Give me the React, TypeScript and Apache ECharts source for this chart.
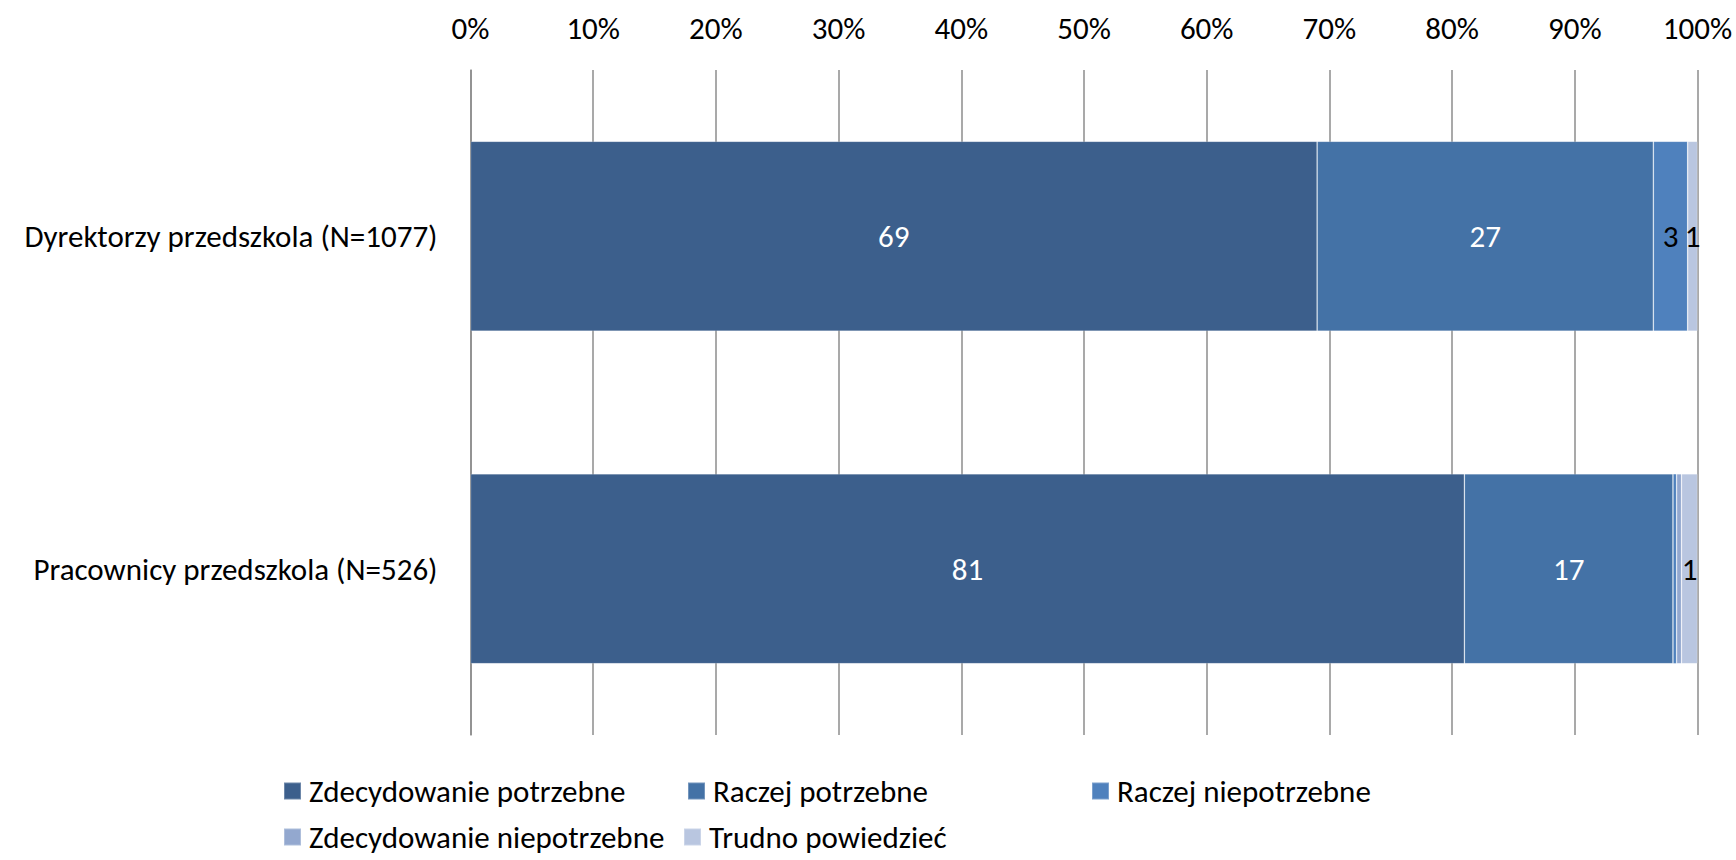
import React, { useEffect, useRef } from "react";
import * as echarts from "echarts";

const categories = ["Dyrektorzy przedszkola (N=1077)", "Pracownicy przedszkola (N=526)"];
const seriesNames = [
  "Zdecydowanie potrzebne",
  "Raczej potrzebne",
  "Raczej niepotrzebne",
  "Zdecydowanie niepotrzebne",
  "Trudno powiedzieć",
];
const zdecydowaniePotrzebne = [69.0, 81.0];
const raczejPotrzebne = [27.4, 17.0];
const raczejNiepotrzebne = [2.8, 0.3];
const zdecydowanieNiepotrzebne = [0, 0.4];
const trudnoPowiedziec = [0.8, 1.3];
const xTicks = [0, 10, 20, 30, 40, 50, 60, 70, 80, 90, 100];

const colors = ["#3c5f8c", "#4472a6", "#4f81bd", "#93a8cf", "#b9c6e0"];
const labelColors = ["#ffffff", "#ffffff", "#000000", "#000000", "#000000"];
const FONT = "Carlito, Calibri, Lato, sans-serif";
const FS = 31;

export default function App() {
  const ref = useRef<HTMLDivElement>(null);
  useEffect(() => {
    if (!ref.current) return;
    const chart = echarts.init(ref.current, undefined, { renderer: "svg" });
    const values = [
      zdecydowaniePotrzebne,
      raczejPotrzebne,
      raczejNiepotrzebne,
      zdecydowanieNiepotrzebne,
      trudnoPowiedziec,
    ];
    const legendPos = [
      { left: 283, top: 775 },
      { left: 687, top: 775 },
      { left: 1091, top: 775 },
      { left: 283, top: 821 },
      { left: 683, top: 821 },
    ];
    chart.setOption({
      animation: false,
      textStyle: { fontFamily: FONT },
      grid: { left: 470.5, right: 38.5, top: 70, bottom: 125, containLabel: false },
      legend: seriesNames.map((n, i) => ({
        data: [n],
        left: legendPos[i].left,
        top: legendPos[i].top,
        itemWidth: 17,
        itemHeight: 17,
        icon: "rect",
        padding: 0,
        textStyle: {
          fontSize: FS,
          lineHeight: 32,
          color: "#000",
          fontFamily: FONT,
          padding: [0, 0, 0, 3],
        },
        selectedMode: false,
      })),
      xAxis: {
        type: "value",
        position: "top",
        min: 0,
        max: 100,
        interval: 10,
        axisLine: { show: false },
        axisTick: { show: false },
        splitLine: { show: true, lineStyle: { color: "#8c8c8c", width: 1.5 } },
        axisLabel: {
          formatter: (v: number) => (xTicks.includes(v) ? v + "%" : ""),
          fontSize: FS,
          color: "#000",
          margin: 27,
          fontFamily: FONT,
        },
      },
      yAxis: {
        type: "category",
        inverse: true,
        data: categories,
        axisLine: { show: true, lineStyle: { color: "#8c8c8c", width: 1.5 } },
        axisTick: { show: false },
        axisLabel: { fontSize: FS, color: "#000", margin: 33, fontFamily: FONT },
      },
      series: seriesNames.map((n, i) => ({
        name: n,
        type: "bar",
        stack: "total",
        barWidth: 190,
        data: values[i],
        itemStyle: { color: colors[i], borderColor: "rgba(255,255,255,0.25)", borderWidth: 0.8 },
        label: {
          show: true,
          position: "inside",
          color: labelColors[i],
          fontSize: FS,
          fontFamily: FONT,
          formatter: (p: any) => {
            const r = Math.round(p.value);
            return r === 0 ? "" : String(r);
          },
        },
      })),
    });
    return () => chart.dispose();
  }, []);
  return (
    <div
      ref={ref}
      style={{ position: "fixed", left: 0, top: 0, width: 1736, height: 860, background: "#fff" }}
    />
  );
}
